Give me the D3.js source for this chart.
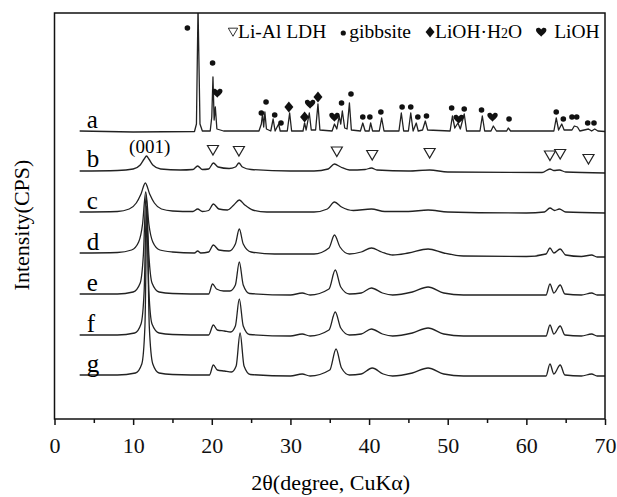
<!DOCTYPE html>
<html>
<head>
<meta charset="utf-8">
<script src="https://cdn.jsdelivr.net/npm/d3@7"></script>
<style>
  body { margin: 0; background: #fff; }
  svg { display: block; font-family: "Liberation Serif", "Times New Roman", serif; }
  .trace { fill: none; stroke: #222; stroke-width: 1.3px; stroke-linejoin: round; }
  .axis text { font-family: "Liberation Serif", "Times New Roman", serif; font-size: 22px; fill: #111; }
  .axis line { stroke: #111; stroke-width: 1.5px; }
</style>
</head>
<body>
<svg id="chart" width="617" height="497"></svg>
<script>

// sample names and vertical offset of each baseline (same units as intensity)
var samples = ['a', 'b', 'c', 'd', 'e', 'f', 'g'];
var offsets = [287, 248, 206, 165, 124, 83, 43];

// traces: [2theta, intensity above own baseline]
var traceA = [[3.2,1],[10,0],[17.8,0.5],[18.05,8],[18.25,125],[18.5,8],[18.8,1],[19.8,1],[20.0,15],[20.15,55],[20.3,12],[20.45,25],[20.65,3],[21.5,1],
  [26.0,1],[26.3,8],[26.45,18],[26.6,5],[26.75,20],[26.95,3],[27.5,1],[27.8,13],[28.05,1],[28.5,8],[28.7,1],[29.6,1],[29.9,19],[30.15,1],
  [31.6,1],[31.8,9],[32.0,2],[32.4,19],[32.65,2],[33.2,2],[33.5,28],[33.75,2],[35.3,1],[35.6,8],[35.9,3],[36.2,16],[36.4,8],[36.6,21],
  [36.9,4],[37.2,3],[37.5,29],[37.75,2],[38.9,1],[39.2,9],[39.5,1],[40.0,1],[40.2,9],[40.45,1],[41.3,1],[41.6,14],[41.9,1],[43.8,1],
  [44.1,19],[44.4,1],[45.0,1],[45.3,19],[45.6,1],[46.0,9],[46.25,1],[46.8,2],[47.15,11],[47.45,2],[50.3,1],[50.6,16],[50.9,4],[51.3,9],
  [51.6,3],[52.1,18],[52.4,1],[54.1,1],[54.4,16],[54.7,1],[55.5,1],[55.8,6],[56.2,1],[57.5,1],[57.7,4],[58.0,1],[63.5,1],[63.8,14],
  [64.1,2],[64.5,8],[64.8,2],[65.8,2],[66.1,6],[66.5,5],[66.8,1],[67.9,3],[68.3,1],[68.7,3],[69.1,1],[70,0.5]];

var traceB = [[3.2,0],[8,0.5],[10,2],[10.9,6],[11.4,12],[11.7,15],[12.0,12],[12.5,6],[13.5,2],[16,1],[17.6,1.5],[18.2,5],[18.8,1.5],
  [19.6,2],[20.2,8],[20.8,4],[22.2,2.5],[23.0,4],[23.45,8],[23.9,4],[25,1.5],[30,0],[33,0],[34.8,2],[35.6,7],[36.4,4],[37.5,1],
  [39.5,1.5],[40.3,3],[41,1],[45,0],[47.7,1],[50,-1],[62,-1.5],[63.0,2],[63.5,0.5],[64.2,1],[65,-1],[70,-2]];

var traceC = [[3.2,1],[8,1.5],[9.5,4],[10.4,10],[11.0,19],[11.55,30],[12.1,19],[12.7,10],[13.6,4],[15,2],[17.6,1.5],[18.2,4],[18.8,1.5],
  [19.6,2.5],[20.2,9],[20.9,4],[22.0,3],[22.8,8],[23.5,13],[24.2,8],[25.2,3],[27,1],[33,1],[34.7,4],[35.6,11],[36.5,6],[38,2.5],
  [40.3,4],[42,1.5],[45,1.5],[47.5,3],[50,1],[60,0],[62.3,1],[63.0,5],[63.6,2.5],[64.2,4],[65,1],[70,0]];

var traceD = [[3.2,1],[8,1.5],[9.8,4],[10.7,12],[11.2,30],[11.6,62],[12.0,30],[12.5,12],[13.4,4],[15,2],[17.8,1],[18.2,3],[18.6,1],
  [19.6,2],[20.2,9],[20.9,4],[22.2,3],[23.0,10],[23.5,25],[24.0,10],[25,2],[28,0],[33,0],[34.9,6],[35.6,19],[36.3,7],[37.5,0],
  [39,2],[40.3,6],[41.6,2],[43,-1],[45,1],[47.5,5],[49.5,1],[52,-2],[60,-2.5],[62.5,0],[63.0,6],[63.5,1],[64.3,5],[65.0,-1],
  [67,-2.5],[68.3,-1],[69,-3],[70,-3]];

var traceE = [[3.2,1],[8,1],[10,3],[10.9,12],[11.3,40],[11.65,100],[12.0,40],[12.4,12],[13.3,3],[15,1.5],[19.6,1],[20.1,11],[20.6,6],
  [21.5,4],[22.3,4],[23.0,10],[23.5,33],[24.0,10],[24.8,1.5],[30,0],[31.5,2],[32.5,0],[34.9,6],[35.7,25],[36.4,8],[37.5,1],[39,2],
  [40.3,7],[41.7,2],[43,0],[45.5,3],[47.5,8],[49.5,2],[52,0],[62.5,0],[63.0,11],[63.5,2],[64.3,10],[64.9,1],[67,0],[68.3,2],[69,0],[70,0]];

var traceF = [[3.2,1],[8,1],[10.2,3],[11.0,12],[11.4,45],[11.7,130],[12.0,45],[12.4,12],[13.3,3],[15,1.5],[19.6,1],[20.2,11],[20.7,6],
  [21.6,5],[22.4,4],[23.0,10],[23.5,37],[24.0,10],[24.8,1.5],[30,0],[31.5,2],[32.5,0],[34.9,6],[35.7,24],[36.4,8],[37.5,1],[39,2],
  [40.3,7],[41.7,2],[43,0],[45.5,3],[47.5,8],[49.5,2],[52,0],[62.5,0],[63.0,11],[63.5,2],[64.3,10],[64.9,1],[67,0],[68.3,2],[69,0],[70,0]];

var traceG = [[3.2,1],[8,1],[10.3,3],[11.1,12],[11.5,50],[11.75,160],[12.05,50],[12.5,12],[13.3,3],[15,1.5],[19.7,1],[20.2,11],[20.7,6],
  [21.6,5],[22.5,4],[23.1,10],[23.6,43],[24.1,10],[24.9,1.5],[30,0],[31.5,2],[32.5,0],[35.0,6],[35.8,27],[36.5,8],[37.5,1],[39,2],
  [40.4,8],[41.8,2],[43,0],[45.5,3],[47.5,8],[49.5,2],[52,0],[62.5,0],[63.0,12],[63.5,2],[64.3,11],[64.9,1],[67,0],[68.3,2],[69,0],[70,0]];

var traces = [traceA, traceB, traceC, traceD, traceE, traceF, traceG];

// phase markers on trace a: [2theta, height above baseline a]
var gibbsiteMarks = [[16.9,104],[20.1,69],[26.3,19],[26.9,30],[28.0,17],[28.8,9],[36.5,29],[37.7,38],[39.2,15],[40.1,15],[41.5,20],
  [44.2,25],[45.3,25],[46.2,15],[47.3,16],[50.5,24],[52.1,23],[54.3,22],[57.8,13],[63.8,20],[64.7,13],[65.8,15],[66.4,15],[67.8,9],[68.6,9]];
var hydrateMarks = [[29.8,25],[31.8,15],[33.5,35]];
var lioHMarks = [[20.7,39],[32.5,28],[35.6,15],[51.4,13],[55.7,15]];
// LDH markers on trace b: [2theta, height above baseline b]
var ldhMarks = [[20.15,21],[23.45,20],[35.9,19.5],[40.4,16],[47.7,18],[63.0,15.5],[64.3,17],[67.9,12]];

var xTicks = [0, 10, 20, 30, 40, 50, 60, 70];
var xMinor = [5, 15, 25, 35, 45, 55, 65];

var svg = d3.select('#chart');
var box = {left: 54.5, top: 13, right: 605, bottom: 419};

var x = d3.scaleLinear().domain([0, 70]).range([box.left, box.right]);
var y = d3.scaleLinear().domain([0, 406]).range([box.bottom, box.top]);

svg.append('clipPath').attr('id', 'plotclip')
  .append('rect')
  .attr('x', box.left).attr('y', box.top)
  .attr('width', box.right - box.left).attr('height', box.bottom - box.top);

// traces
var plot = svg.append('g').attr('clip-path', 'url(#plotclip)');
traces.forEach(function (tr, i) {
  var line = d3.line()
    .x(function (d) { return x(d[0]); })
    .y(function (d) { return y(d[1] + offsets[i]); })
    .curve(i === 0 ? d3.curveLinear : d3.curveMonotoneX);
  plot.append('path')
    .attr('class', 'trace')
    .attr('d', line(tr));
});

// sample labels
svg.selectAll('text.sample').data(samples).enter().append('text')
  .attr('class', 'sample')
  .attr('x', x(4.1))
  .attr('y', function (d, i) { return y(offsets[i]) - 4; })
  .attr('font-size', 25)
  .text(function (d) { return d; });

svg.append('text')
  .attr('x', x(12.1)).attr('y', y(offsets[1] + 18))
  .attr('text-anchor', 'middle')
  .attr('font-size', 19)
  .text('(001)');

// marker shapes
var tri = 'M-5.5,-4.5L5.5,-4.5L0,5Z';
var diamond = 'M0,-5.5L4.5,0L0,5.5L-4.5,0Z';
var heart = 'M0,4.8C-1.2,3.2-5.2,0.6-5.2,-1.9C-5.2,-4.6-1.6,-5.2,0,-2.6C1.6,-5.2,5.2,-4.6,5.2,-1.9C5.2,0.6,1.2,3.2,0,4.8Z';

var marks = svg.append('g');
marks.selectAll('circle').data(gibbsiteMarks).enter().append('circle')
  .attr('cx', function (d) { return x(d[0]); })
  .attr('cy', function (d) { return y(d[1] + offsets[0]); })
  .attr('r', 2.8).attr('fill', '#111');
marks.selectAll('path.dia').data(hydrateMarks).enter().append('path')
  .attr('class', 'dia').attr('d', diamond).attr('fill', '#111')
  .attr('transform', function (d) { return 'translate(' + x(d[0]) + ',' + y(d[1] + offsets[0]) + ')'; });
marks.selectAll('path.heart').data(lioHMarks).enter().append('path')
  .attr('class', 'heart').attr('d', heart).attr('fill', '#111')
  .attr('transform', function (d) { return 'translate(' + x(d[0]) + ',' + y(d[1] + offsets[0]) + ')'; });
marks.selectAll('path.tri').data(ldhMarks).enter().append('path')
  .attr('class', 'tri').attr('d', tri)
  .attr('fill', '#fff').attr('stroke', '#222').attr('stroke-width', 1.2)
  .attr('transform', function (d) { return 'translate(' + x(d[0]) + ',' + y(d[1] + offsets[1]) + ')'; });

// legend, laid out left to right
var legendItems = [
  {shape: 'tri', label: 'Li-Al LDH'},
  {shape: 'dot', label: 'gibbsite'},
  {shape: 'dia', label: 'LiOH\u00b7H2O'},
  {shape: 'heart', label: 'LiOH'}
];
var lg = svg.append('g');
var cx = 228, ly = 38;
legendItems.forEach(function (it, i) {
  var sym;
  if (it.shape === 'dot') {
    sym = lg.append('circle').attr('r', 2.6).attr('fill', '#111').attr('cx', cx + 3).attr('cy', ly - 5);
    cx += 9;
  } else {
    var d = it.shape === 'tri' ? tri : it.shape === 'dia' ? diamond : heart;
    sym = lg.append('path').attr('d', d)
      .attr('transform', 'translate(' + (cx + 5) + ',' + (ly - 6) + ')' + (it.shape === 'tri' ? ' scale(0.85)' : ''));
    if (it.shape === 'tri') sym.attr('fill', '#fff').attr('stroke', '#222').attr('stroke-width', 1.1);
    else sym.attr('fill', '#111');
    cx += it.shape === 'heart' ? 18 : 10;
  }
  var t = lg.append('text').attr('x', cx).attr('y', ly).attr('font-size', 19.5);
  if (it.label.indexOf('H2O') > -1) {
    t.append('tspan').text('LiOH\u00b7H');
    t.append('tspan').attr('font-size', 14).text('2');
    t.append('tspan').text('O');
  } else {
    t.text(it.label);
  }
  cx += t.node().getComputedTextLength() + 14;
});

// frame
svg.append('rect')
  .attr('x', box.left).attr('y', box.top)
  .attr('width', box.right - box.left).attr('height', box.bottom - box.top)
  .attr('fill', 'none').attr('stroke', '#111').attr('stroke-width', 1.5);

// bottom axis
var ax = svg.append('g').attr('class', 'axis')
  .attr('transform', 'translate(0,' + box.bottom + ')')
  .call(d3.axisBottom(x).tickValues(xTicks).tickSize(6).tickPadding(12).tickFormat(d3.format('d')));
ax.select('.domain').remove();
var axm = svg.append('g').attr('class', 'axis')
  .attr('transform', 'translate(0,' + box.bottom + ')')
  .call(d3.axisBottom(x).tickValues(xMinor).tickSize(4).tickFormat(''));
axm.select('.domain').remove();

svg.append('text')
  .attr('x', (box.left + box.right) / 2 + 1).attr('y', 490)
  .attr('text-anchor', 'middle').attr('font-size', 22)
  .text('2\u03b8(degree, CuK\u03b1)');

svg.append('text')
  .attr('transform', 'translate(29,225) rotate(-90)')
  .attr('text-anchor', 'middle').attr('font-size', 22)
  .text('Intensity(CPS)');

</script>
</body>
</html>
